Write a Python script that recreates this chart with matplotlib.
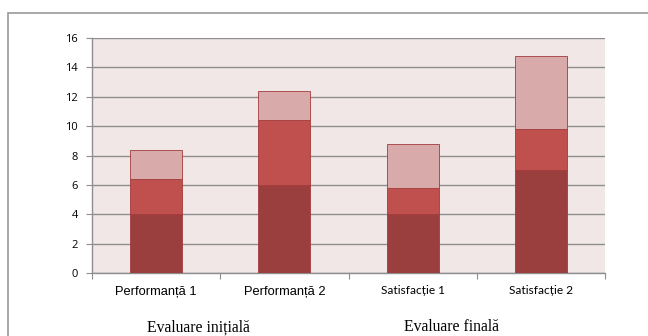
import matplotlib
matplotlib.use("Agg")
import matplotlib.pyplot as plt
import numpy as np
from matplotlib.patches import Rectangle

# scores per evaluation, stacked in three layers
CATEGORIES = ["Performanță 1", "Performanță 2", "Satisfacție 1", "Satisfacție 2"]
LAYER_1 = [4.0, 6.0, 4.0, 7.0]
LAYER_2 = [2.4, 4.4, 1.8, 2.8]
LAYER_3 = [2.0, 2.0, 3.0, 5.0]
Y_TICKS = [0, 2, 4, 6, 8, 10, 12, 14, 16]
GROUP_LABELS = ["Evaluare inițială", "Evaluare finală"]

COLORS = ["#9B3F3E", "#C0504D", "#D9AAAA"]
EDGE = "#A33A3C"
BG = "#F2E7E7"
GRID = "#8E8E8E"

W, H = 648, 336
fig = plt.figure(figsize=(W / 100, H / 100), dpi=100)

# outer chart frame
fig.patches.append(Rectangle((8 / W, -0.1), 1.2, (H - 13) / H + 0.1, transform=fig.transFigure,
                             fill=False, edgecolor="#9A9A9A", linewidth=1.2))

ax = fig.add_axes([92 / W, (H - 273) / H, 513 / W, 235 / H])
ax.set_facecolor(BG)

x = np.arange(len(CATEGORIES))
width = 0.405
bottom = np.zeros(len(CATEGORIES))
for vals, color in zip([LAYER_1, LAYER_2, LAYER_3], COLORS):
    ax.bar(x, vals, width, bottom=bottom, color=color, edgecolor=EDGE, linewidth=0.6, zorder=3)
    bottom += np.array(vals)

ax.set_xlim(-0.5, len(CATEGORIES) - 0.5)
ax.set_ylim(0, 16)
ax.set_yticks(Y_TICKS)
ax.yaxis.grid(True, color=GRID, linewidth=1.0, zorder=1)
ax.set_axisbelow(True)

for side in ["top", "right"]:
    ax.spines[side].set_visible(False)
for side in ["left", "bottom"]:
    ax.spines[side].set_color(GRID)
    ax.spines[side].set_linewidth(1.0)

ax.tick_params(axis="y", length=4, color=GRID, pad=6)
for lbl in ax.get_yticklabels():
    lbl.set_fontfamily("Open Sans")
    lbl.set_fontsize(8)

# category tick marks sit on the boundaries between bars
ax.set_xticks(np.arange(-0.5, len(CATEGORIES)), minor=False)
ax.set_xticklabels([])
ax.tick_params(axis="x", length=4, color=GRID)
ax.set_xticks(x, minor=True)
ax.set_xticklabels(CATEGORIES, minor=True)
ax.tick_params(axis="x", which="minor", length=0, pad=9)
for i, lbl in enumerate(ax.get_xticklabels(minor=True)):
    if i < 2:
        lbl.set_fontfamily("Liberation Sans")
        lbl.set_fontsize(9.3)
    else:
        lbl.set_fontfamily("Lato")
        lbl.set_fontsize(8.6)

fig.text(198 / W, 1 - 327 / H, GROUP_LABELS[0], ha="center", va="center",
         fontfamily="Liberation Serif", fontsize=11.3)
fig.text(451 / W, 1 - 327 / H, GROUP_LABELS[1], ha="center", va="center",
         fontfamily="Liberation Serif", fontsize=11.3)

fig.savefig("out.png", dpi=100)
